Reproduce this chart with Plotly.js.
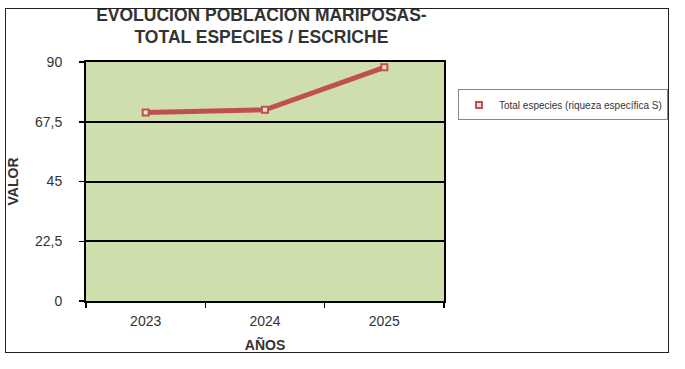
<!DOCTYPE html>
<html>
<head>
<meta charset="utf-8">
<script src="https://cdn.plot.ly/plotly-3.0.1.min.js"></script>
<style>
html,body{margin:0;padding:0;background:#fff;}
#wrap{position:relative;width:685px;height:369px;}
#frame{position:absolute;left:5px;top:8px;width:662px;height:343px;border:1.5px solid #222;pointer-events:none;}
#chart{position:absolute;left:0;top:0;width:685px;height:369px;}
</style>
</head>
<body>
<div id="wrap">
<div id="chart"></div>
<div id="frame"></div>
</div>
<script>
const years = ['2023', '2024', '2025'];
const totalEspecies = [71, 72, 88];
const yTicks = [0, 22.5, 45, 67.5, 90];
const seriesName = 'Total especies (riqueza específica S)';

const lineTrace = {
  x: years,
  y: totalEspecies,
  name: seriesName,
  type: 'scatter',
  mode: 'lines',
  line: {color: '#c0504d', width: 5},
  showlegend: false
};
const markerTrace = {
  x: years,
  y: totalEspecies,
  name: seriesName,
  type: 'scatter',
  mode: 'markers',
  marker: {symbol: 'square', size: 6, color: '#f4e0da', line: {color: '#c0504d', width: 2}},
  showlegend: true
};

const layout = {
  width: 685, height: 369,
  margin: {l: 86, r: 241, t: 62, b: 68},
  paper_bgcolor: '#ffffff',
  plot_bgcolor: '#cfdead',
  separators: ',.',
  font: {family: 'Liberation Sans, Arial, sans-serif', color: '#333', size: 14},
  title: {
    text: 'EVOLUCION POBLACION MARIPOSAS-<br>TOTAL ESPECIES / ESCRICHE',
    font: {size: 17.5, color: '#333', family: 'Liberation Sans, Arial, sans-serif', weight: 'bold'},
    x: 0.49, xref: 'paper', xanchor: 'center',
    y: 0.944, yref: 'container', yanchor: 'top'
  },
  xaxis: {
    type: 'category',
    range: [-0.5, 2.5],
    tickson: 'boundaries',
    ticks: 'outside', ticklen: 5, tickcolor: '#000', tickwidth: 1.5,
    showline: true, linecolor: '#000', linewidth: 2, mirror: true,
    showgrid: false, zeroline: false,
    tickfont: {size: 14, color: '#333'},
    ticklabelstandoff: 6,
    title: {text: 'AÑOS', font: {size: 14, color: '#333', weight: 'bold'}, standoff: 12}
  },
  yaxis: {
    range: [0, 90],
    tickvals: yTicks,
    ticks: 'outside', ticklen: 5, tickcolor: '#000', tickwidth: 1.5,
    showline: true, linecolor: '#000', linewidth: 2, mirror: true,
    showgrid: true, gridcolor: '#000', gridwidth: 2,
    zeroline: false,
    tickfont: {size: 14, color: '#333'},
    ticklabelstandoff: 14,
    title: {text: 'VALOR', font: {size: 14, color: '#333', weight: 'bold'}, standoff: 13}
  },
  legend: {
    x: 1.039, xanchor: 'left', y: 0.885, yanchor: 'top',
    bgcolor: '#fff', bordercolor: '#888', borderwidth: 1,
    font: {size: 10, color: '#333'},
    itemwidth: 30,
    tracegroupgap: 0
  }
};

Plotly.newPlot('chart', [lineTrace, markerTrace], layout, {displayModeBar: false, staticPlot: true});
</script>
</body>
</html>
